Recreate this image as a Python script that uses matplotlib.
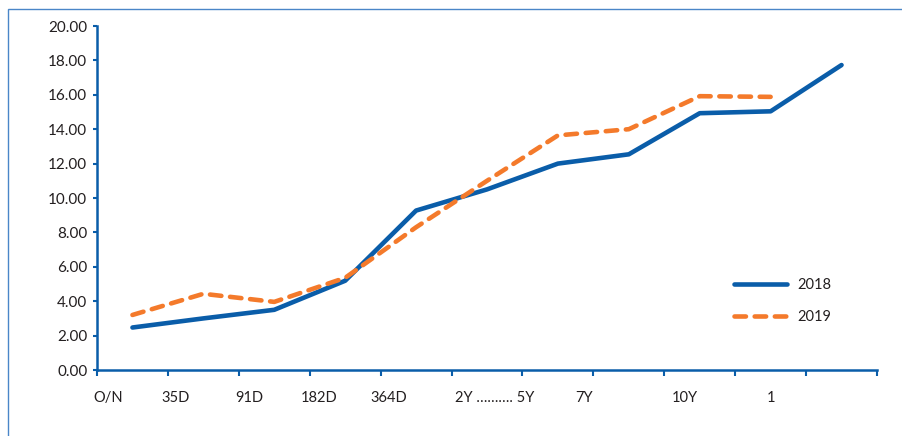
import matplotlib.pyplot as plt
import numpy as np
from matplotlib.patches import Rectangle

# data
tenor_labels = ['O/N', '35D', '91D', '182D', '364D', '2Y ………. 5Y', '7Y', '10Y', '1']
label_pos = [-0.34, 0.61, 1.65, 2.63, 3.62, 5.11, 6.37, 7.79, 9.01]
yield_2018 = [2.47, 3.0, 3.5, 5.19, 9.27, 10.5, 12.0, 12.54, 14.93, 15.04, 17.73]
yield_2019 = [3.2, 4.43, 3.96, 5.36, 8.3, 11.0, 13.64, 14.0, 15.92, 15.88]

blue = '#0A5DA9'
orange = '#F47A2B'
txt = '#231F20'

plt.rcParams['font.family'] = ['Lato', 'DejaVu Sans']

fig = plt.figure(figsize=(9.02, 4.36), dpi=100)
ax = fig.add_axes([97 / 902, 66 / 436, 780 / 902, 344 / 436])

# thin frame around the whole graphic (only left and top visible)
fig.patches.append(Rectangle((8 / 902, -0.1), 1.2, 0.1 + 427 / 436, transform=fig.transFigure,
                             fill=False, edgecolor='#4A86C8', linewidth=1))

x18 = np.arange(len(yield_2018))
x19 = np.arange(len(yield_2019))
ax.plot(x18, yield_2018, color=blue, linewidth=3.3, solid_capstyle='round',
        solid_joinstyle='round', label='2018')
ax.plot(x19, yield_2019, color=orange, linewidth=3.3, dashes=(2.5, 1.9),
        dash_capstyle='round', label='2019')

ax.set_xlim(-0.5, 10.5)
ax.set_ylim(0, 20)
ax.set_yticks(np.arange(0, 21, 2))
ax.set_yticklabels(['%.2f' % v for v in np.arange(0, 21, 2)])
ax.set_xticks(np.arange(-0.5, 11, 1))
ax.set_xticklabels([])

for lab, pos in zip(tenor_labels, label_pos):
    ax.text(pos, -1.65, lab, ha='center', va='center', fontsize=10.5, color=txt)

for s in ['top', 'right']:
    ax.spines[s].set_visible(False)
for s in ['left', 'bottom']:
    ax.spines[s].set_color(blue)
    ax.spines[s].set_linewidth(1.8)
ax.tick_params(axis='y', colors=blue, labelcolor=txt, length=3, width=1.5,
               pad=4, labelsize=11)
ax.tick_params(axis='x', colors=blue, length=4, width=1.5)

ax.legend(loc='center left', bbox_to_anchor=(0.8, 0.2), frameon=False,
          handlelength=3.6, handletextpad=0.7, labelspacing=1.2, fontsize=10.5,
          labelcolor=txt)

plt.savefig('out.png', dpi=100)
